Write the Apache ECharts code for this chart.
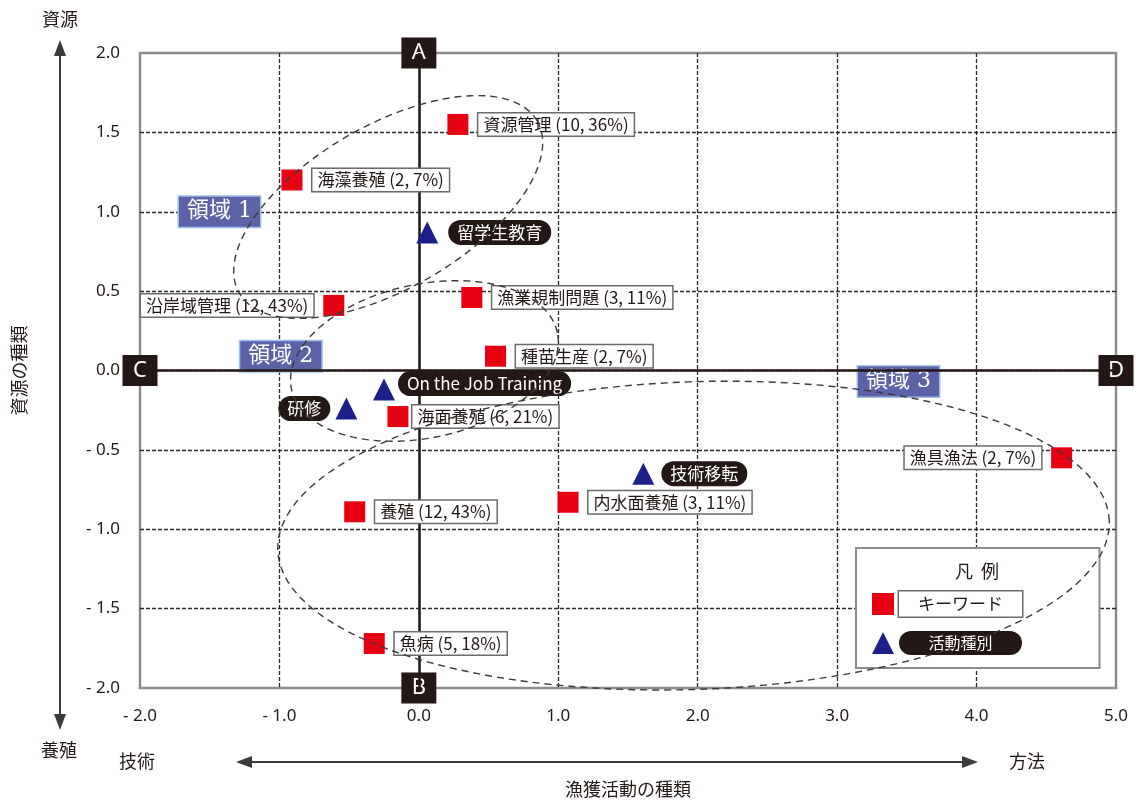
<!DOCTYPE html>
<html><head><meta charset="utf-8">
<script src="https://cdn.jsdelivr.net/npm/echarts@6/dist/echarts.min.js"></script>
<style>html,body{margin:0;padding:0;background:#fff}#c{width:1136px;height:803px}</style>
</head><body><div id="c"></div>
<script>
// ---- data ----
const keywordTerms  = ['資源管理','海藻養殖','沿岸域管理','漁業規制問題','種苗生産','海面養殖','漁具漁法','内水面養殖','養殖','魚病'];
const keywordCounts = [10, 2, 12, 3, 2, 6, 2, 3, 12, 5];
const keywordShares = [36, 7, 43, 11, 7, 21, 7, 11, 43, 18];
const keywordX      = [0.28, -0.91, -0.61, 0.38, 0.55, -0.15, 4.61, 1.07, -0.46, -0.32];
const keywordY      = [1.55, 1.20, 0.41, 0.46, 0.09, -0.29, -0.55, -0.83, -0.89, -1.72];

const activityNames = ['留学生教育','On the Job Training','研修','技術移転'];
const activityX     = [0.06, -0.25, -0.52, 1.61];
const activityY     = [0.87, -0.12, -0.24, -0.65];

const regionNames = ['領域 1','領域 2','領域 3'];
const regionX     = [-1.43, -0.99, 3.44];
const regionY     = [1.00, 0.09, -0.07];

// region outlines: centre x, centre y, half-axis (x units), half-axis (y units), tilt in degrees
const regionEllipses = [
  [-0.22, 1.03, 1.234, 0.515, 30],
  [0.04, 0.06, 0.975, 0.484, 12],
  [1.97, -1.04, 2.984, 0.969, 2]
];

const cornerNames = ['A','B','C','D'];
const cornerX     = [0, 0, -2, 5];
const cornerY     = [2, -2, 0, 0];

const xTicks = {min: -2, max: 5, interval: 1};
const yTicks = {min: -2, max: 2, interval: 0.5};

// ---- styles (not data) ----
const INK = '#231815';
const leftLabelled = {'沿岸域管理': true, '漁具漁法': true};
const labelDistance = {'海面養殖': 4};
const actLabelStyle = {
  '研修': {position: 'left', distance: 5},
  'On the Job Training': {position: 'right', distance: 3, offset: [0, -6]},
  '技術移転': {position: 'right', distance: 7},
  '留学生教育': {position: 'right', distance: 10}
};

const tickFmt = v => (v < 0 ? '- ' + Math.abs(v).toFixed(1) : v.toFixed(1));

const keywordData = keywordTerms.map((t, i) => {
  const item = {name: t + ' (' + keywordCounts[i] + ', ' + keywordShares[i] + '%)', value: [keywordX[i], keywordY[i]]};
  const lab = {};
  if (leftLabelled[t]) lab.position = 'left';
  if (labelDistance[t] !== undefined) lab.distance = labelDistance[t];
  item.label = lab;
  return item;
});
const activityData = activityNames.map((n, i) => ({name: n, value: [activityX[i], activityY[i]], label: actLabelStyle[n] || {}}));
const regionData = regionNames.map((n, i) => ({name: n, value: [regionX[i], regionY[i]]}));
const cornerData = cornerNames.map((n, i) => ({name: n, value: [cornerX[i], cornerY[i]]}));

function renderEllipse(params, api) {
  const c = api.coord([api.value(0), api.value(1)]);
  const s = api.size([api.value(2), api.value(3)]);
  const th = api.value(4) * Math.PI / 180;
  const pts = [];
  const N = 120;
  for (let i = 0; i < N; i++) {
    const t = i / N * 2 * Math.PI;
    const ca = Math.cos(t) * s[0], sb = Math.sin(t) * s[1];
    pts.push([c[0] + ca * Math.cos(th) - sb * Math.sin(th), c[1] - (ca * Math.sin(th) + sb * Math.cos(th))]);
  }
  return {type: 'polygon', shape: {points: pts}, silent: true,
    style: {fill: 'none', stroke: '#3e3a39', lineWidth: 1.4, lineDash: [7, 5]}};
}

const chart = echarts.init(document.getElementById('c'), null, {renderer: 'canvas'});
const splitStyle = {show: true, showMinLine: false, showMaxLine: false, lineStyle: {type: [4, 2], color: '#2a2a2a', width: 1.3}};
const axisLabelBase = {fontSize: 17, color: INK, fontFamily: 'Noto Sans', formatter: tickFmt};

chart.setOption({
  animation: false,
  backgroundColor: '#fff',
  grid: {left: 140, right: 20, top: 53, bottom: 114, show: true, borderColor: '#8c8c8c', borderWidth: 2.5, backgroundColor: '#fff'},
  xAxis: {
    type: 'value', min: xTicks.min, max: xTicks.max, interval: xTicks.interval,
    axisLine: {show: false}, axisTick: {show: false}, splitLine: splitStyle,
    axisLabel: Object.assign({margin: 20}, axisLabelBase),
    name: '漁獲活動の種類', nameLocation: 'middle', nameGap: 92,
    nameTextStyle: {fontSize: 18, color: INK, fontFamily: 'Noto Sans CJK JP'}
  },
  yAxis: {
    type: 'value', min: yTicks.min, max: yTicks.max, interval: yTicks.interval,
    axisLine: {show: false}, axisTick: {show: false}, splitLine: splitStyle,
    axisLabel: Object.assign({margin: 20}, axisLabelBase),
    name: '資源の種類', nameLocation: 'middle', nameGap: 112, nameRotate: 90,
    nameTextStyle: {fontSize: 18, color: INK, fontFamily: 'Noto Sans CJK JP'}
  },
  legend: {
    left: 856, top: 548, orient: 'vertical',
    padding: [42, 76, 13, 16],
    itemWidth: 22, itemHeight: 22, itemGap: 13,
    backgroundColor: '#fff', borderColor: '#8c8c8c', borderWidth: 2,
    selectedMode: false,
    data: [{name: 'キーワード', icon: 'rect'}, {name: '活動種別', icon: 'triangle'}],
    formatter: n => (n === 'キーワード' ? '{k|' + n + '}' : '{a|' + n + '}'),
    textStyle: {rich: {
      k: {width: 107, align: 'center', backgroundColor: '#fff', borderColor: '#6b6b6b', borderWidth: 1.5, padding: [4, 8], fontSize: 17, color: INK, fontFamily: 'Noto Sans CJK JP'},
      a: {width: 107, align: 'center', backgroundColor: INK, borderRadius: 14, padding: [4, 8], fontSize: 16, color: '#fff', fontFamily: 'Noto Sans CJK JP'}
    }}
  },
  graphic: [
    {type: 'line', shape: {x1: 60, y1: 52, x2: 60, y2: 718}, style: {stroke: '#3e3a39', lineWidth: 2}, z: 10},
    {type: 'polygon', shape: {points: [[60, 40], [54, 56], [66, 56]]}, style: {fill: '#3e3a39'}, z: 10},
    {type: 'polygon', shape: {points: [[60, 730], [54, 714], [66, 714]]}, style: {fill: '#3e3a39'}, z: 10},
    {type: 'line', shape: {x1: 248, y1: 762, x2: 966, y2: 762}, style: {stroke: '#3e3a39', lineWidth: 2}, z: 10},
    {type: 'polygon', shape: {points: [[236, 762], [252, 756], [252, 768]]}, style: {fill: '#3e3a39'}, z: 10},
    {type: 'polygon', shape: {points: [[978, 762], [962, 756], [962, 768]]}, style: {fill: '#3e3a39'}, z: 10},
    {type: 'text', x: 60, y: 19, style: {text: '資源', fill: INK, font: '18px "Noto Sans CJK JP"', textAlign: 'center', textVerticalAlign: 'middle'}, z: 10},
    {type: 'text', x: 59, y: 750, style: {text: '養殖', fill: INK, font: '18px "Noto Sans CJK JP"', textAlign: 'center', textVerticalAlign: 'middle'}, z: 10},
    {type: 'text', x: 137, y: 761, style: {text: '技術', fill: INK, font: '18px "Noto Sans CJK JP"', textAlign: 'center', textVerticalAlign: 'middle'}, z: 10},
    {type: 'text', x: 1027, y: 761, style: {text: '方法', fill: INK, font: '18px "Noto Sans CJK JP"', textAlign: 'center', textVerticalAlign: 'middle'}, z: 10},
    {type: 'text', x: 977, y: 571, style: {text: '凡  例', fill: INK, font: '18px "Noto Sans CJK JP"', textAlign: 'center', textVerticalAlign: 'middle'}, z: 10}
  ],
  series: [
    {
      type: 'line', data: [], z: 1, silent: true,
      markLine: {symbol: 'none', silent: true, label: {show: false},
        lineStyle: {type: 'solid', color: INK, width: 2.5},
        data: [{xAxis: 0}, {yAxis: 0}]}
    },
    {
      type: 'scatter', name: 'corners', data: cornerData, z: 3, clip: false,
      symbol: 'rect', symbolSize: [35, 31], itemStyle: {color: INK, opacity: 1},
      label: {show: true, position: 'inside', formatter: p => p.name, color: '#fff', fontSize: 22, fontFamily: 'Noto Sans'}
    },
    {
      type: 'scatter', name: 'regions', data: regionData, z: 4, clip: false,
      symbolSize: 0, itemStyle: {opacity: 1},
      label: {show: true, position: 'inside', formatter: p => p.name, color: '#fff', fontSize: 22,
        fontFamily: "'DejaVu Serif', 'Noto Sans CJK JP'",
        backgroundColor: '#5b63a6', borderColor: '#9cc0e8', borderWidth: 1.5, padding: [4, 8]}
    },
    {
      type: 'scatter', name: 'キーワード', data: keywordData, z: 5, clip: false,
      symbol: 'rect', symbolSize: 21, itemStyle: {color: '#e60012', opacity: 1},
      label: {show: true, position: 'right', distance: 10, formatter: p => p.name, color: INK, fontSize: 17,
        fontFamily: 'Noto Sans CJK JP', backgroundColor: '#fff', borderColor: '#6b6b6b', borderWidth: 1.5, padding: [3, 5, 2, 5]}
    },
    {
      type: 'scatter', name: '活動種別', data: activityData, z: 5, clip: false,
      symbol: 'triangle', symbolSize: 22, itemStyle: {color: '#1d2088', opacity: 1},
      label: {show: true, position: 'right', distance: 8, formatter: p => p.name, color: '#fff', fontSize: 17,
        fontFamily: 'Noto Sans CJK JP', backgroundColor: INK, borderRadius: 15, padding: [4, 9]}
    },
    {
      type: 'custom', name: 'outlines', data: regionEllipses, z: 8, clip: false, silent: true,
      encode: {x: 0, y: 1},
      renderItem: renderEllipse
    }
  ]
});
</script>
</body></html>
